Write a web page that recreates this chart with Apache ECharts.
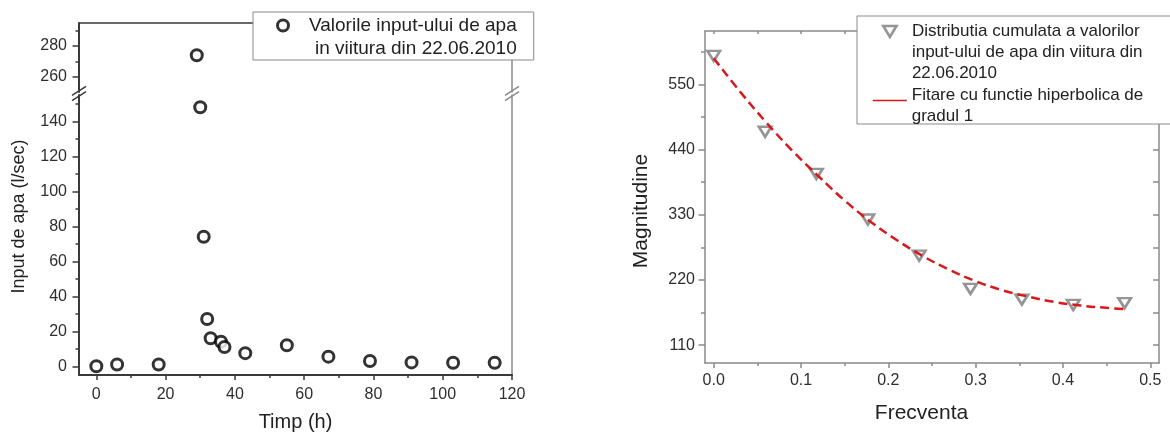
<!DOCTYPE html>
<html><head><meta charset="utf-8">
<script src="https://cdn.jsdelivr.net/npm/echarts@6/dist/echarts.min.js"></script>
<style>html,body{margin:0;padding:0;background:#fff}#c{width:1170px;height:437px}</style>
</head><body><div id="c"></div>
<script>
// ---------- Left chart data ----------
const timeH   = [0, 6, 18, 29, 30, 31, 32, 33, 36, 37, 43, 55, 67, 79, 91, 103, 115];
const inputLs = [0, 1, 1, 274, 148, 74, 27, 16, 14, 11, 7.5, 12, 5.5, 3, 2.2, 2, 2];
const leftXRange = [-5, 120];
const leftXTicks = [0, 20, 40, 60, 80, 100, 120];
const leftXMinor = [10, 30, 50, 70, 90, 110];
const lowerYRange = [-5, 155];
const lowerYTicks = [0, 20, 40, 60, 80, 100, 120, 140];
const lowerYMinor = [10, 30, 50, 70, 90, 110, 130, 150];
const upperYRange = [250, 295];
const upperYTicks = [260, 280];
const upperYMinor = [270, 290];
const leftName = 'Valorile input-ului de apa';
const leftName2 = 'in viitura din 22.06.2010';

// ---------- Right chart data ----------
const freq      = [0, 0.0588, 0.1176, 0.1765, 0.2353, 0.2941, 0.3529, 0.4118, 0.4706];
const magnitude = [598, 470, 399, 322, 261, 205, 187, 178, 181];
const fitX = [0, 0.03, 0.06, 0.09, 0.12, 0.15, 0.18, 0.21, 0.24, 0.27, 0.30, 0.33, 0.36, 0.39, 0.42, 0.45, 0.47];
const fitY = [594, 538, 486, 438, 395, 354, 318, 287, 260, 237, 218, 203, 192, 183, 177, 173, 171];
const rightXRange = [-0.01, 0.51];
const rightXTicks = [0, 0.1, 0.2, 0.3, 0.4, 0.5];
const rightXMinor = [0.05, 0.15, 0.25, 0.35, 0.45];
const rightYRange = [80, 640];
const rightYTicks = [110, 220, 330, 440, 550];
const rightYMinor = [165, 275, 385, 495, 605];
const rName1 = 'Distributia cumulata a valorilor\ninput-ului de apa din viitura din\n22.06.2010';
const rName2 = 'Fitare cu functie hiperbolica de\ngradul 1';

const FONT = "'Liberation Sans', Arial, sans-serif";
const DARK = '#3a3a3a';
const GRAY = '#8a8a8a';
const TRI_GRAY = '#7a7a7a';
const RED = '#d7191c';

const upperPts = [], lowerPts = [];
timeH.forEach((t, i) => {
  if (inputLs[i] >= upperYRange[0]) upperPts.push([t, inputLs[i]]);
  else lowerPts.push([t, inputLs[i]]);
});
const rightPts = freq.map((f, i) => [f, magnitude[i]]);
const fitPts = fitX.map((f, i) => [f, fitY[i]]);

const noSplit = { show: false };
function tickAx(base, values, len, inside, color, width) {
  return Object.assign({
    type: 'value', splitLine: noSplit,
    axisLine: { show: false, onZero: false },
    axisLabel: { show: false },
    axisTick: { show: true, inside: inside, length: len, customValues: values,
                lineStyle: { color: color, width: width || 1.5 } }
  }, base);
}
const lbl = (vals, margin, fmt) => ({ show: true, customValues: vals, margin: margin,
  fontSize: 16, color: '#2e2e2e', fontFamily: FONT, formatter: fmt });

const xAxis = [
  { gridIndex: 0, type: 'value', position: 'top', min: leftXRange[0], max: leftXRange[1],
    axisLine: { show: true, onZero: false, lineStyle: { color: DARK, width: 1.5 } },
    axisTick: { show: false }, axisLabel: { show: false }, splitLine: noSplit },
  Object.assign(tickAx({ gridIndex: 1, position: 'bottom', min: leftXRange[0], max: leftXRange[1] },
      leftXTicks, 5, false, DARK), {
    axisLine: { show: true, onZero: false, lineStyle: { color: DARK, width: 2 } },
    axisLabel: lbl(leftXTicks, 12),
    name: 'Timp (h)', nameLocation: 'middle', nameGap: 37,
    nameTextStyle: { fontSize: 20, color: '#222', fontFamily: FONT } }),
  tickAx({ gridIndex: 1, position: 'bottom', min: leftXRange[0], max: leftXRange[1] }, leftXMinor, 3, false, DARK),
  Object.assign(tickAx({ gridIndex: 2, position: 'bottom', min: rightXRange[0], max: rightXRange[1] },
      rightXTicks, 5, false, GRAY), {
    axisLine: { show: true, onZero: false, lineStyle: { color: GRAY, width: 1.5 } },
    axisLabel: lbl(rightXTicks, 10, v => v.toFixed(1)),
    name: 'Frecventa', nameLocation: 'middle', nameGap: 40,
    nameTextStyle: { fontSize: 21, color: '#222', fontFamily: FONT, padding: [0, 21, 0, 0] } }),
  tickAx({ gridIndex: 2, position: 'bottom', min: rightXRange[0], max: rightXRange[1] }, rightXMinor, 3, false, GRAY),
  Object.assign(tickAx({ gridIndex: 2, position: 'top', min: rightXRange[0], max: rightXRange[1] },
      rightXTicks.concat(rightXMinor), 3, true, GRAY), {
    axisLine: { show: true, onZero: false, lineStyle: { color: GRAY, width: 1.5 } } })
];

const yAxis = [
  Object.assign(tickAx({ gridIndex: 0, position: 'left', min: upperYRange[0], max: upperYRange[1] },
      upperYTicks, 6.5, false, DARK), {
    axisLine: { show: true, onZero: false, lineStyle: { color: DARK, width: 2 } },
    axisLabel: lbl(upperYTicks, 12) }),
  tickAx({ gridIndex: 0, position: 'left', min: upperYRange[0], max: upperYRange[1] }, upperYMinor, 3.5, false, DARK),
  { gridIndex: 0, type: 'value', position: 'right', min: upperYRange[0], max: upperYRange[1],
    axisLine: { show: true, onZero: false, lineStyle: { color: GRAY, width: 1.5 } },
    axisTick: { show: false }, axisLabel: { show: false }, splitLine: noSplit },
  Object.assign(tickAx({ gridIndex: 1, position: 'left', min: lowerYRange[0], max: lowerYRange[1] },
      lowerYTicks, 6.5, false, DARK), {
    axisLine: { show: true, onZero: false, lineStyle: { color: DARK, width: 2 } },
    axisLabel: lbl(lowerYTicks, 12),
    name: 'Input de apa (l/sec)', nameLocation: 'middle', nameGap: 51,
    nameTextStyle: { fontSize: 18, color: '#222', fontFamily: FONT, padding: [0, 0, 0, 37] } }),
  tickAx({ gridIndex: 1, position: 'left', min: lowerYRange[0], max: lowerYRange[1] }, lowerYMinor, 3.5, false, DARK),
  { gridIndex: 1, type: 'value', position: 'right', min: lowerYRange[0], max: lowerYRange[1],
    axisLine: { show: true, onZero: false, lineStyle: { color: GRAY, width: 1.5 } },
    axisTick: { show: false }, axisLabel: { show: false }, splitLine: noSplit },
  Object.assign(tickAx({ gridIndex: 2, position: 'left', min: rightYRange[0], max: rightYRange[1] },
      rightYTicks, 6.5, false, GRAY), {
    axisLine: { show: true, onZero: false, lineStyle: { color: GRAY, width: 1.5 } },
    axisLabel: lbl(rightYTicks, 10),
    name: 'Magnitudine', nameLocation: 'middle', nameGap: 53,
    nameTextStyle: { fontSize: 21, color: '#222', fontFamily: FONT, padding: [0, 28, 0, 0] } }),
  tickAx({ gridIndex: 2, position: 'left', min: rightYRange[0], max: rightYRange[1] }, rightYMinor, 4, false, GRAY),
  Object.assign(tickAx({ gridIndex: 2, position: 'right', min: rightYRange[0], max: rightYRange[1] },
      rightYTicks.concat(rightYMinor), 6, true, GRAY), {
    axisLine: { show: true, onZero: false, lineStyle: { color: GRAY, width: 1.5 } } })
];

const circleStyle = { color: '#fff', borderColor: '#000', borderWidth: 3 };
const triStyle = { color: '#fff', borderColor: TRI_GRAY, borderWidth: 2.6 };
const legendBase = { orient: 'vertical', borderColor: GRAY, borderWidth: 1, backgroundColor: '#fff',
  symbolKeepAspect: true };
const option = {
  animation: false,
  backgroundColor: '#fff',
  grid: [
    { left: 79, top: 23, width: 433, height: 69 },
    { left: 79, top: 95, width: 433, height: 280 },
    { left: 705, top: 31, width: 454, height: 332 }
  ],
  xAxis: xAxis,
  yAxis: yAxis,
  legend: [
    Object.assign({}, legendBase, { left: 253, top: 12, itemWidth: 42, itemHeight: 11,
      padding: [2, 17, 2, 23], itemStyle: circleStyle,
      data: [{ name: leftName }],
      formatter: n => '{a|' + n + '}\n{b|' + leftName2 + '}',
      textStyle: { fontSize: 19, lineHeight: 23, height: 23, color: '#222', fontFamily: FONT,
        rich: { a: { fontSize: 19, lineHeight: 23, fontFamily: FONT, color: '#222' },
                b: { fontSize: 19, lineHeight: 23, fontFamily: FONT, color: '#222', align: 'right' } } } }),
    Object.assign({}, legendBase, { left: 857, top: 16, itemWidth: 34, itemHeight: 11,
      padding: [5, 36, 42, 25], itemStyle: triStyle,
      data: [{ name: rName1, icon: 'path://M0,0 L12,0 L6,10 Z' }],
      formatter: n => '{a|' + n + '}',
      textStyle: { fontSize: 17, lineHeight: 21, height: 21, color: '#222', fontFamily: FONT,
        rich: { a: { fontSize: 17, lineHeight: 21, fontFamily: FONT, color: '#222' } } } }),
    { orient: 'vertical', left: 872, top: 84.5, itemWidth: 34, itemHeight: 11, padding: 0,
      lineStyle: { type: 'solid', width: 1.5 }, itemStyle: { opacity: 0 },
      data: [{ name: rName2 }],
      formatter: n => '{a|' + n + '}',
      textStyle: { fontSize: 17, lineHeight: 21, height: 32, color: '#222', fontFamily: FONT,
        rich: { a: { fontSize: 17, lineHeight: 21, fontFamily: FONT, color: '#222' } } } }
  ],
  series: [
    { name: leftName, type: 'scatter', xAxisIndex: 0, yAxisIndex: 0, data: upperPts,
      symbol: 'circle', symbolSize: 11, itemStyle: circleStyle },
    { name: leftName, type: 'scatter', xAxisIndex: 1, yAxisIndex: 3, data: lowerPts,
      symbol: 'circle', symbolSize: 11, itemStyle: circleStyle },
    { name: rName1, type: 'scatter', xAxisIndex: 3, yAxisIndex: 6, data: rightPts,
      symbol: 'triangle', symbolRotate: 180, symbolSize: [12.5, 10], itemStyle: triStyle },
    { name: rName2, type: 'line', xAxisIndex: 3, yAxisIndex: 6, data: fitPts, smooth: 0.4,
      symbol: 'none', z: 5,
      lineStyle: { color: RED, width: 2.5, type: [9, 5] }, itemStyle: { color: RED } }
  ]
};

const chart = echarts.init(document.getElementById('c'), null, { renderer: 'canvas' });
chart.setOption(option);

// axis-break marks, placed from the axis scales
const yLowTop = chart.convertToPixel({ yAxisIndex: 3 }, lowerYRange[1]);
const yUpBot = chart.convertToPixel({ yAxisIndex: 0 }, upperYRange[0]);
const cy = (yLowTop + yUpBot) / 2;
const xL = chart.convertToPixel({ xAxisIndex: 1 }, leftXRange[0]);
const xR = chart.convertToPixel({ xAxisIndex: 1 }, leftXRange[1]);
function breakMark(cx, color) {
  return [-2.6, 2.6].map(d => ({
    type: 'line', silent: true, z: 100,
    shape: { x1: cx - 7, y1: cy + d + 4.5, x2: cx + 7, y2: cy + d - 4.5 },
    style: { stroke: color, lineWidth: 1.5 }
  }));
}
chart.setOption({ graphic: breakMark(xL, DARK).concat(breakMark(xR, GRAY)) });
</script></body></html>
